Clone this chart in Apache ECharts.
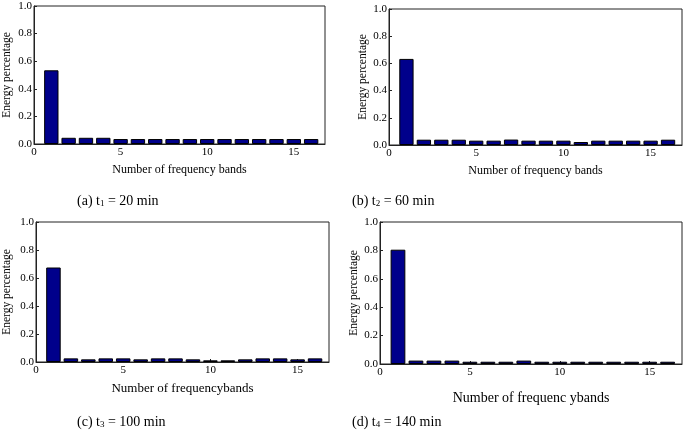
<!DOCTYPE html>
<html><head><meta charset="utf-8">
<script src="https://cdn.jsdelivr.net/npm/echarts@6/dist/echarts.min.js"></script>
<style>html,body{margin:0;padding:0;background:#fff}#c{width:685px;height:434px}</style>
</head><body><div id="c"></div>
<script>
var bands = [1,2,3,4,5,6,7,8,9,10,11,12,13,14,15,16];
var energyA = [0.534,0.045,0.045,0.045,0.036,0.036,0.036,0.036,0.036,0.036,0.036,0.036,0.036,0.036,0.036,0.036];
var energyB = [0.633,0.039,0.039,0.039,0.032,0.032,0.040,0.032,0.032,0.032,0.022,0.032,0.032,0.032,0.032,0.039];
var energyC = [0.675,0.026,0.019,0.026,0.026,0.019,0.026,0.026,0.019,0.012,0.012,0.019,0.026,0.026,0.019,0.026];
var energyD = [0.805,0.024,0.024,0.024,0.016,0.016,0.016,0.024,0.016,0.016,0.016,0.016,0.016,0.016,0.016,0.016];
var xTicks = [0,5,10,15];
var yTicks = [0.0,0.2,0.4,0.6,0.8,1.0];
var xTitles = ['Number of frequency bands','Number of frequency bands','Number of frequencybands','Number of frequenc ybands'];
var yTitle = 'Energy percentage';
var captions = [['(a) t','1',' = 20 min'],['(b) t','2',' = 60 min'],['(c) t','3',' = 100 min'],['(d) t','4',' = 140 min']];

var series = [energyA, energyB, energyC, energyD];
var grids = [
  {left:31, top:6, width:294, height:138, xGap:20, yGap:21, xFont:12},
  {left:389, top:9, width:293, height:136, xGap:20, yGap:19, xFont:12},
  {left:32, top:222, width:297, height:140, xGap:20, yGap:23, xFont:13},
  {left:380, top:222, width:302, height:142, xGap:27, yGap:18, xFont:14}
];
var XMAX = 16.8;
var FF = '"Liberation Serif", "DejaVu Serif", serif';
var chart = echarts.init(document.getElementById('c'));
var opt = {animation:false, grid:[], xAxis:[], yAxis:[], series:[], graphic:[]};
grids.forEach(function(g,i){
  opt.grid.push({left:g.left, top:g.top, width:g.width, height:g.height, show:true, borderColor:'#222', borderWidth:1, containLabel:false});
  opt.xAxis.push({type:'value', gridIndex:i, min:0, max:XMAX, interval:5,
    name:xTitles[i], nameLocation:'middle', nameGap:g.xGap,
    nameTextStyle:{fontFamily:FF, fontSize:g.xFont, color:'#000'},
    axisLine:{lineStyle:{color:'#222'}}, axisTick:{inside:true, length:3, lineStyle:{color:'#222'}},
    splitLine:{show:false},
    axisLabel:{fontFamily:FF, fontSize:11, color:'#000', margin:3, showMaxLabel:false,
      formatter:function(v){return xTicks.indexOf(v)>=0 ? String(v) : '';}}});
  opt.yAxis.push({type:'value', gridIndex:i, min:0, max:1, interval:0.2,
    name:yTitle, nameLocation:'middle', nameGap:g.yGap,
    nameTextStyle:{fontFamily:FF, fontSize:11.5, color:'#000'},
    axisLine:{show:true, lineStyle:{color:'#222'}}, axisTick:{show:true, inside:true, length:3, lineStyle:{color:'#222'}},
    splitLine:{show:false},
    axisLabel:{fontFamily:FF, fontSize:11, color:'#000', margin:2,
      formatter:function(v){return v.toFixed(1);}}});
  opt.series.push({type:'bar', xAxisIndex:i, yAxisIndex:i,
    barWidth: 0.82*g.width/XMAX,
    itemStyle:{color:'#00008b', borderColor:'#000', borderWidth:1},
    data: bands.map(function(b,k){return [b, series[i][k]];})});
});
var capPos = [[77,194],[352,194],[77,415],[352,415]];
captions.forEach(function(c,i){
  opt.graphic.push({type:'text', left:capPos[i][0], top:capPos[i][1],
    style:{text:'{n|'+c[0]+'}{s|'+c[1]+'}{n|'+c[2]+'}',
      rich:{n:{fontFamily:FF, fontSize:14, fill:'#000', color:'#000'}, s:{fontFamily:FF, fontSize:9, verticalAlign:'bottom', fill:'#000', color:'#000', padding:[6,0,0,0]}}}});
});
chart.setOption(opt);
</script></body></html>
